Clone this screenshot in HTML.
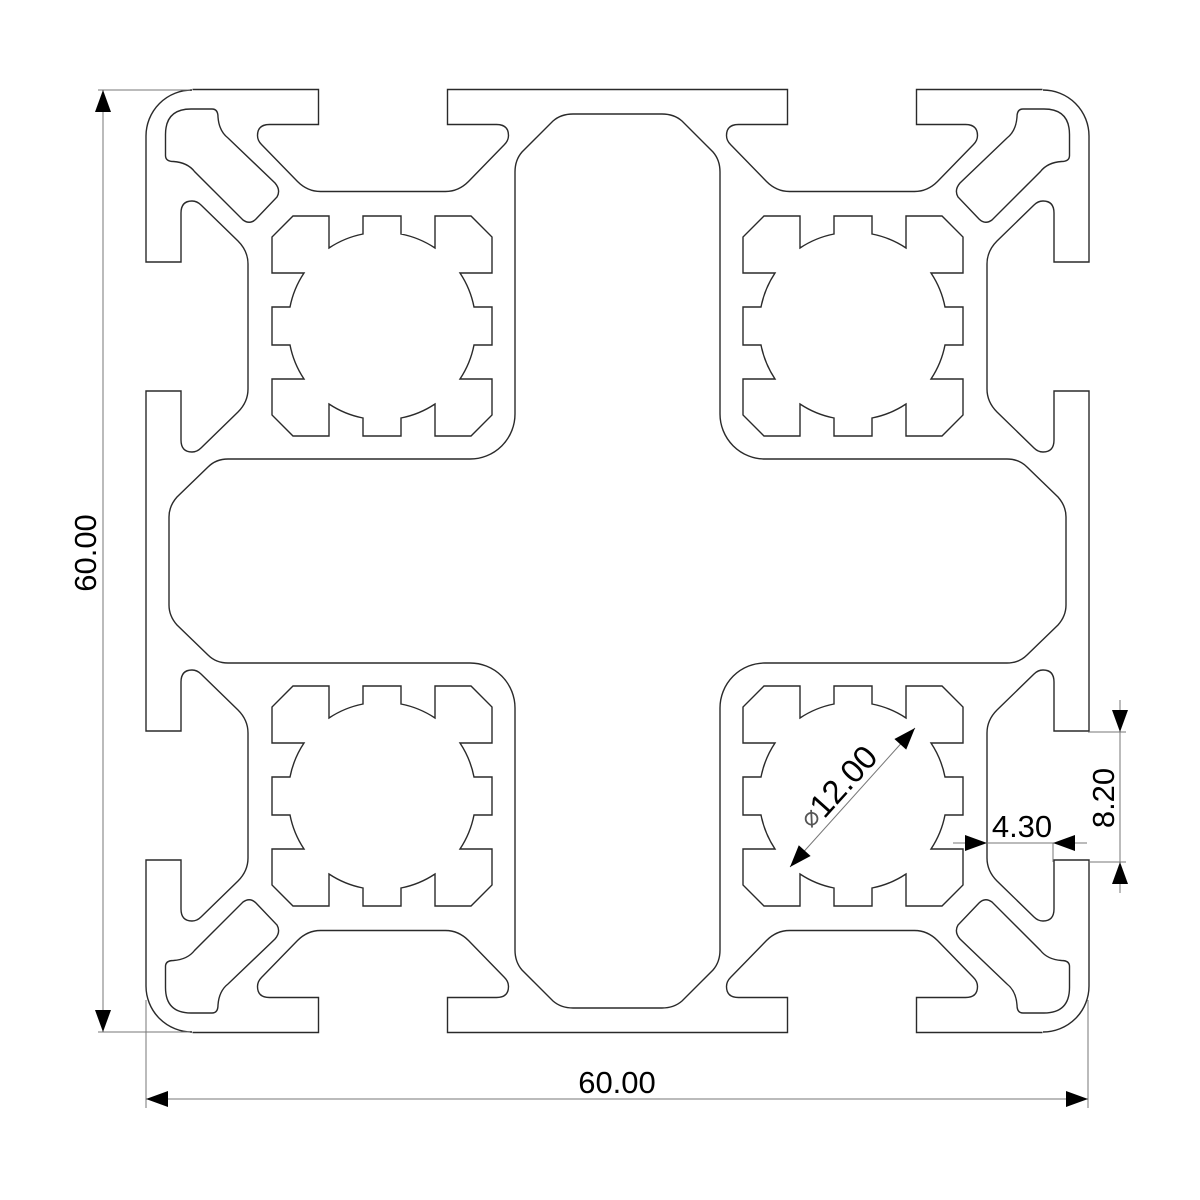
<!DOCTYPE html>
<html><head><meta charset="utf-8"><style>
html,body{margin:0;padding:0;background:#fff;}
svg{display:block;}
text{font-family:"Liberation Sans","DejaVu Sans",sans-serif;fill:#000;}
</style></head><body>
<svg width="1200" height="1200" viewBox="0 0 1200 1200" xmlns="http://www.w3.org/2000/svg">
<defs>
<path id="hole" d="M-89,-110 L-53,-110 L-53,-78 A94,94 0 0 1 -19,-92 L-19,-110 L19,-110 L19,-92 A94,94 0 0 1 53,-78 L53,-110 L89,-110 L110,-89 L110,-53 L78,-53 A94,94 0 0 1 92,-19 L110,-19 L110,19 L92,19 A94,94 0 0 1 78,53 L110,53 L110,89 L89,110 L53,110 L53,78 A94,94 0 0 1 19,92 L19,110 L-19,110 L-19,92 A94,94 0 0 1 -53,78 L-53,110 L-89,110 L-110,89 L-110,53 L-78,53 A94,94 0 0 1 -92,19 L-110,19 L-110,-19 L-92,-19 A94,94 0 0 1 -78,-53 L-110,-53 L-110,-89 Z"/>
<g id="slot">
<path d="M146,561 L146,391 L181,391 L181,440 Q181,452 192,452 Q197,452 201,448 L238,412 Q248,402 248,389 L248,264 Q248,251 238,241 L201,205 Q197,201 192,201 Q181,201 181,213 L181,262 L146,262 L146,136"/>
</g>
<g id="quad">
<use href="#slot"/>
<use href="#slot" transform="matrix(0,1,1,0,56.5,-56.5)"/>
<path d="M146,136 A46,46 0 0 1 192,90"/>
<path d="M191,109 L212,109 Q218,109 218,117 Q219,131 228,138 L275,183 Q281,190 277,197 L256,219 Q250,225 243,220 L194.5,171.5 Q187.5,162.5 173.5,161.5 Q165.5,161.5 165.5,155.5 L165.5,134.5 Q165.5,109 191,109 Z"/>
<use href="#hole" transform="translate(382,326)"/>
<path d="M617.5,114 L573,114 Q561,114 553,121 L522,152 Q515,160 515,172 L515,414 A45,45 0 0 1 470,459 L228,459 Q216,459 208,467 L177,497 Q169,506 169,517 L169,561"/>
</g>
</defs>
<g fill="none" stroke="#2a2a2a" stroke-width="1.4">
<use href="#quad"/>
<use href="#quad" transform="translate(1235,0) scale(-1,1)"/>
<use href="#quad" transform="translate(0,1122) scale(1,-1)"/>
<use href="#quad" transform="translate(1235,1122) scale(-1,-1)"/>
</g>
<!-- dimension lines -->
<g stroke="#777" stroke-width="1" fill="none">
<line x1="98" y1="90" x2="190" y2="90"/>
<line x1="98" y1="1032" x2="190" y2="1032"/>
<line x1="103" y1="90" x2="103" y2="1032"/>
<line x1="146" y1="1000" x2="146" y2="1108"/>
<line x1="1088" y1="1000" x2="1088" y2="1108"/>
<line x1="146" y1="1099" x2="1088" y2="1099"/>
<line x1="790" y1="867" x2="915" y2="728"/>
<line x1="953" y1="843" x2="1087" y2="843"/>
<line x1="1053" y1="843" x2="1053" y2="862"/>
<line x1="1120" y1="700" x2="1120" y2="893"/>
<line x1="1088" y1="732" x2="1126" y2="732"/>
<line x1="1088" y1="862" x2="1126" y2="862"/>
</g>
<g fill="#000">
<polygon points="103,90 95,112 111,112"/>
<polygon points="103,1032 95,1010 111,1010"/>
<polygon points="146,1099 168,1091 168,1107"/>
<polygon points="1088,1099 1066,1091 1066,1107"/>
<polygon points="915,728 906.2,749.6 894.4,739"/>
<polygon points="790,867 810.6,856 798.8,845.3"/>
<polygon points="987,843 965,835 965,851"/>
<polygon points="1053,843 1075,835 1075,851"/>
<polygon points="1120,732 1112,710 1128,710"/>
<polygon points="1120,862 1112,884 1128,884"/>
</g>
<text x="617" y="1093" font-size="31" text-anchor="middle">60.00</text>
<text transform="translate(96,553) rotate(-90)" font-size="31" text-anchor="middle">60.00</text>
<text x="1022" y="837" font-size="31" text-anchor="middle">4.30</text>
<text transform="translate(1114,798) rotate(-90)" font-size="31" text-anchor="middle">8.20</text>
<text transform="translate(838,787) rotate(-48)" font-size="33" text-anchor="middle" dominant-baseline="central"><tspan font-family="DejaVu Sans" font-size="26" fill="#555">⌀</tspan>12.00</text>
</svg>
</body></html>
